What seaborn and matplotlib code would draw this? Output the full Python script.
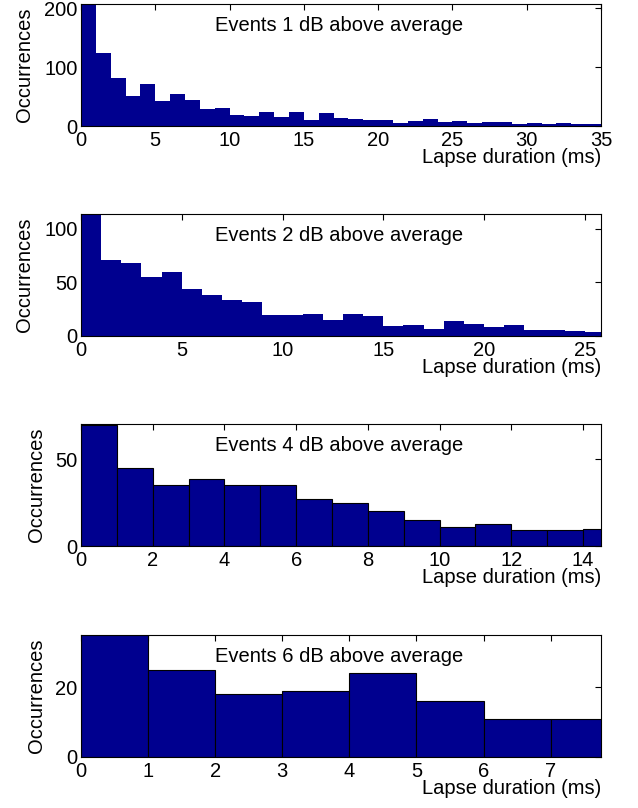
import numpy as np
import pandas as pd
import seaborn as sns
import matplotlib.pyplot as plt

# counts per 1 ms bin
counts_1db = [207, 124, 81, 51, 71, 43, 54, 44, 29, 30, 18, 17, 23, 15, 23, 10, 22, 14,
              12, 10, 10, 5, 8, 12, 6, 8, 5, 6, 6, 4, 5, 3, 5, 3, 3, 9]
counts_2db = [114, 71, 68, 55, 60, 44, 38, 34, 32, 20, 20, 21, 15, 21, 19, 9, 10, 7,
              14, 11, 8, 10, 6, 6, 5, 4]
counts_4db = [70, 45, 35, 39, 35, 35, 27, 25, 20, 15, 11, 13, 9, 9, 10]
counts_6db = [35, 25, 18, 19, 24, 16, 11, 11]

levels = [1, 2, 4, 6]
all_counts = [counts_1db, counts_2db, counts_4db, counts_6db]
x_max = [35, 25.8, 14.5, 7.75]
y_max = [207, 114, 70.5, 35]
x_ticks = [np.arange(0, 36, 5), np.arange(0, 26, 5), np.arange(0, 15, 2), np.arange(0, 8, 1)]
y_ticks = [[0, 100, 200], [0, 50, 100], [0, 50], [0, 20]]
edges = [False, False, True, True]

sns.set_style('white')
plt.rcParams['font.family'] = ['Liberation Sans', 'DejaVu Sans']
for k in ('text.color', 'axes.labelcolor', 'xtick.color', 'ytick.color'):
    plt.rcParams[k] = 'black'

fig = plt.figure(figsize=(6.38, 8.08), dpi=100)
left, width, height = 81 / 638, 520 / 638, 122 / 808
tops = [4, 214, 424, 635]
bar_color = '#00008F'

for i, (lvl, cnt) in enumerate(zip(levels, all_counts)):
    ax = fig.add_axes([left, 1 - (tops[i] + 122) / 808, width, height])
    df = pd.DataFrame({'start': np.arange(len(cnt)) + 0.5, 'n': cnt})
    sns.histplot(data=df, x='start', weights='n', binwidth=1, binrange=(0, len(cnt)),
                 color=bar_color, alpha=1, ax=ax,
                 edgecolor='black' if edges[i] else bar_color,
                 linewidth=0.8 if edges[i] else 0)
    ax.set_xlim(0, x_max[i])
    ax.set_ylim(0, y_max[i])
    ax.set_xticks(x_ticks[i])
    ax.set_yticks(y_ticks[i])
    ax.tick_params(direction='in', length=4, width=0.8, top=True, right=True,
                   labelsize=14.5, color='black')
    ax.tick_params(axis='x', pad=3.5)
    ax.tick_params(axis='y', pad=2.5)
    for s in ax.spines.values():
        s.set_visible(True)
        s.set_color('black')
        s.set_linewidth(0.8)
    ax.set_ylabel('Occurrences', fontsize=14.5, labelpad=7)
    ax.set_xlabel('Lapse duration (ms)', fontsize=14.5, loc='right', labelpad=-1.5)
    ax.text(0.496, 0.82, f'Events {lvl} dB above average', transform=ax.transAxes,
            ha='center', va='center', fontsize=14.5)

fig.savefig('out.png', dpi=100)
